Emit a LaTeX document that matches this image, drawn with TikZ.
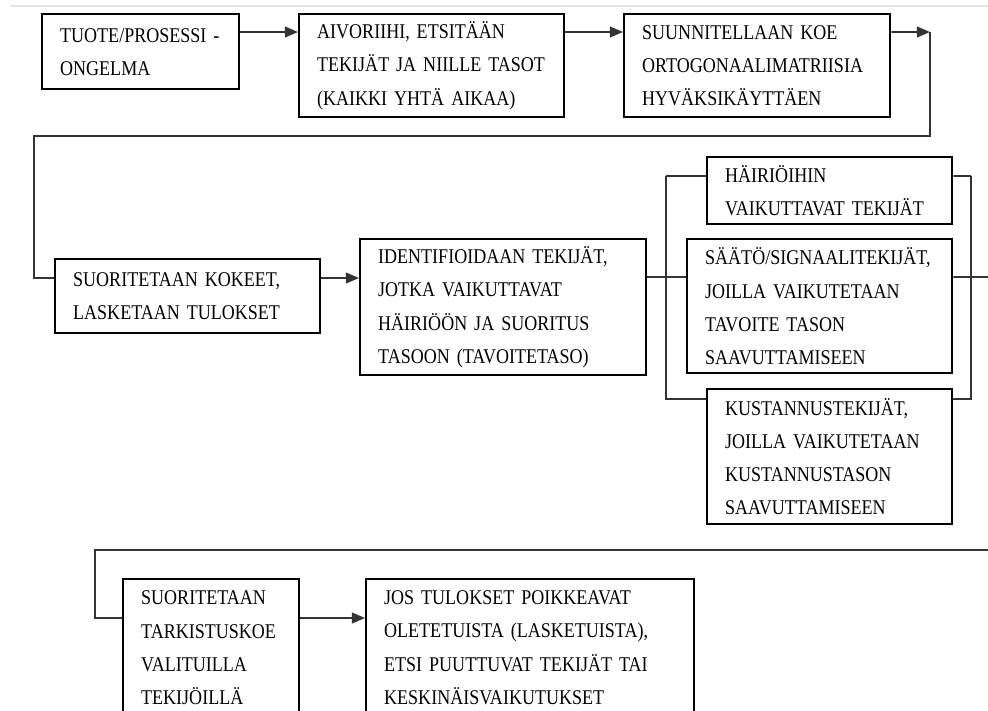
\documentclass[tikz,border=0pt]{standalone}
\usepackage{fontspec}
\setmainfont{Liberation Serif}[FakeStretch=0.86]
\usetikzlibrary{arrows.meta}

\tikzset{
	box/.style={draw, line width=0.06cm, anchor=north west, align=left, inner xsep=0.45cm, inner ysep=0pt, font=\fontsize{14.9}{23.5}\selectfont},
	link/.style={line width=0.045cm, black!80},
	arr/.style={link, -{Triangle[length=0.33cm, width=0.27cm]}}
}

\begin{document}
\begin{tikzpicture}[x=0.025cm, y=-0.025cm]
		\clip (0,0) rectangle (988,711);
		\draw[gray!20, line width=0.03cm] (10,6) -- (988,6);

		\draw (41,13) node (prob) [box, text width=4.025cm, minimum height=1.875cm] {TUOTE/PROSESSI -\\ONGELMA};
		\draw (298,13) node (brain) [box, text width=5.725cm, minimum height=2.575cm] {AIVORIIHI, ETSITÄÄN\\TEKIJÄT JA NIILLE TASOT\\(KAIKKI YHTÄ AIKAA)};
		\draw (623,13) node (plan) [box, text width=5.75cm, minimum height=2.575cm] {SUUNNITELLAAN KOE\\ORTOGONAALIMATRIISIA\\HYVÄKSIKÄYTTÄEN};

		\draw (54,258) node (run) [box, text width=5.725cm, minimum height=1.85cm] {SUORITETAAN KOKEET,\\LASKETAAN TULOKSET};
		\draw (359,238) node (ident) [box, text width=6.25cm, minimum height=3.4cm] {IDENTIFIOIDAAN TEKIJÄT,\\JOTKA VAIKUTTAVAT\\HÄIRIÖÖN JA SUORITUS\\TASOON (TAVOITETASO)};

		\draw (706,156) node (noise) [box, text width=5.225cm, minimum height=1.675cm] {HÄIRIÖIHIN\\VAIKUTTAVAT TEKIJÄT};
		\draw (686,238) node (signal) [box, text width=5.725cm, minimum height=3.35cm] {SÄÄTÖ/SIGNAALITEKIJÄT,\\JOILLA VAIKUTETAAN\\TAVOITE TASON\\SAAVUTTAMISEEN};
		\draw (706,388) node (cost) [box, text width=5.225cm, minimum height=3.375cm] {KUSTANNUSTEKIJÄT,\\JOILLA VAIKUTETAAN\\KUSTANNUSTASON\\SAAVUTTAMISEEN};

		\draw (122,578) node (check) [box, text width=3.5cm, minimum height=3.425cm] {SUORITETAAN\\TARKISTUSKOE\\VALITUILLA\\TEKIJÖILLÄ};
		\draw (365,578) node (result) [box, text width=7.3cm, minimum height=3.425cm] {JOS TULOKSET POIKKEAVAT\\OLETETUISTA (LASKETUISTA),\\ETSI PUUTTUVAT TEKIJÄT TAI\\KESKINÄISVAIKUTUKSET};

		\coordinate (turn) at (930,32);
		\coordinate (back) at (34,136);
		\coordinate (busl) at (666,176);
		\coordinate (busr) at (971,176);
		\coordinate (edge) at (988,277);
		\coordinate (loop) at (988,550);
		\coordinate (down) at (95,550);

		\draw[arr] ([yshift=-0.475cm]prob.north east) coordinate (a1) -- (a1 -| brain.west);
		\draw[arr] ([yshift=-0.475cm]brain.north east) coordinate (a2) -- (a2 -| plan.west);
		\draw[arr] ([yshift=-0.475cm]plan.north east) -- (turn);
		\draw[link] (turn) |- (back) |- ([yshift=-0.5cm]run.north west);

		\draw[arr] ([yshift=-0.5cm]run.north east) coordinate (a4) -- (a4 -| ident.west);

		\draw[link] ([yshift=-0.975cm]ident.north east) coordinate (a5) -- (a5 -| signal.west);
		\draw[link] (busl |- a5) -- (busl);
		\draw[link] (busl) -- (busl -| noise.west);
		\draw[link] (busl |- a5) |- ([yshift=-0.275cm]cost.north west);
		\draw[link] ([yshift=-0.5cm]noise.north east) -- (busr);
		\draw[link] (busr) |- ([yshift=-0.275cm]cost.north east);
		\draw[link] ([yshift=-0.975cm]signal.north east) -- (edge);

		\draw[link] (loop) -- (down) |- ([yshift=-1cm]check.north west);
		\draw[arr] ([yshift=-1cm]check.north east) coordinate (a7) -- (a7 -| result.west);

	\end{tikzpicture}
\end{document}
